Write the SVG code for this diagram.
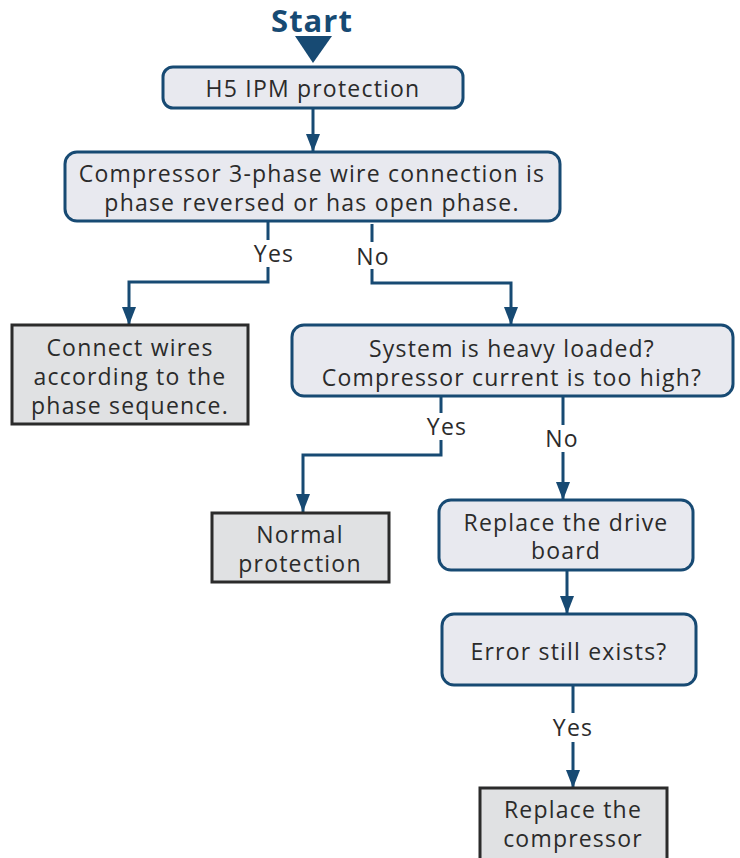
<svg xmlns="http://www.w3.org/2000/svg" width="740" height="858" viewBox="0 0 740 858">
<defs>
<style>
.proc{fill:#e8e9ef;stroke:#174a73;stroke-width:3}
.term{fill:#e0e1e3;stroke:#2b2b2b;stroke-width:3}
.t{font-family:"Open Sans","Noto Sans",sans-serif;font-size:23px;letter-spacing:1.2px;fill:#2b2b2b;text-anchor:middle}
.c{fill:none;stroke:#174a73;stroke-width:3}
</style>
<marker id="ah" viewBox="0 0 14 18" refX="7" refY="18" markerWidth="14" markerHeight="18" markerUnits="userSpaceOnUse" orient="0">
<path d="M0,0 L14,0 L7,18 z" fill="#174a73"/>
</marker>
</defs>
<g id="start">
<text x="312" y="32" style="font-family:'Open Sans','Noto Sans',sans-serif;font-size:31px;font-weight:bold;letter-spacing:1px;fill:#174a73;text-anchor:middle">Start</text>
<path d="M295,36 L332,36 L313,63 z" fill="#174a73"/>
</g>
<g id="connectors">
<path class="c" d="M313,108 V152" marker-end="url(#ah)"/>
<path class="c" d="M268,221 V240 M268,267 V282 H129 V325" marker-end="url(#ah)"/>
<path class="c" d="M372,224 V242 M372,269 V283 H511 V325" marker-end="url(#ah)"/>
<path class="c" d="M441,396 V413 M441,440 V455 H303 V512" marker-end="url(#ah)"/>
<path class="c" d="M563,396 V425 M563,452 V500" marker-end="url(#ah)"/>
<path class="c" d="M567,570 V614" marker-end="url(#ah)"/>
<path class="c" d="M573,685 V713 M573,742 V788" marker-end="url(#ah)"/>
<text class="t" x="274" y="262">Yes</text>
<text class="t" x="373" y="265">No</text>
<text class="t" x="447" y="435">Yes</text>
<text class="t" x="562" y="447">No</text>
<text class="t" x="573" y="736">Yes</text>
</g>
<g id="n1">
<rect class="proc" x="163" y="67" width="300" height="41" rx="10"/>
<text class="t" x="313" y="97">H5 IPM protection</text>
</g>
<g id="n2">
<rect class="proc" x="65" y="152" width="495" height="69" rx="12"/>
<text class="t" x="312" y="182">Compressor 3-phase wire connection is</text>
<text class="t" x="312" y="211">phase reversed or has open phase.</text>
</g>
<g id="n3">
<rect class="term" x="12" y="325" width="236" height="99"/>
<text class="t" x="130" y="356">Connect wires</text>
<text class="t" x="130" y="385">according to the</text>
<text class="t" x="130" y="414">phase sequence.</text>
</g>
<g id="n4">
<rect class="proc" x="292" y="325" width="441" height="71" rx="12"/>
<text class="t" x="512" y="357">System is heavy loaded?</text>
<text class="t" x="512" y="386">Compressor current is too high?</text>
</g>
<g id="n5">
<rect class="term" x="212" y="513" width="177" height="69"/>
<text class="t" x="300" y="543">Normal</text>
<text class="t" x="300" y="572">protection</text>
</g>
<g id="n6">
<rect class="proc" x="439" y="500" width="254" height="70" rx="12"/>
<text class="t" x="566" y="531">Replace the drive</text>
<text class="t" x="566" y="559">board</text>
</g>
<g id="n7">
<rect class="proc" x="442" y="614" width="254" height="71" rx="12"/>
<text class="t" x="569" y="660">Error still exists?</text>
</g>
<g id="n8">
<rect class="term" x="480" y="788" width="187" height="72"/>
<text class="t" x="573" y="818">Replace the</text>
<text class="t" x="573" y="847">compressor</text>
</g>
</svg>
